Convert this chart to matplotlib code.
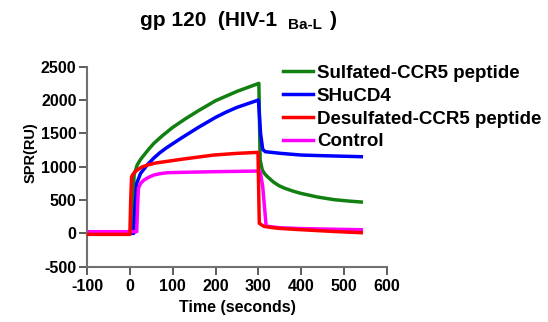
import matplotlib
matplotlib.use("Agg")
import matplotlib.pyplot as plt

# sensorgram traces (time in s, response in RU)
sulfated_t = [-100, 5, 7, 10, 17, 25, 33, 45, 56, 75, 100, 130, 160, 200, 250, 301,
              304, 309, 315, 321, 335, 348, 360, 380, 399, 438, 477, 510, 540]
sulfated_v = [0, 0, 500, 880, 1025, 1110, 1175, 1270, 1350, 1460, 1590, 1720, 1840, 1990, 2130, 2250,
              1100, 950, 890, 850, 770, 715, 680, 635, 600, 545, 505, 485, 470]

shucd4_t = [-100, 9, 12, 16, 25, 41, 56, 70, 87, 100, 119, 140, 160, 180, 200, 225, 250, 275, 300,
            305, 310, 316, 352, 399, 450, 540]
shucd4_v = [0, 0, 400, 750, 900, 1030, 1130, 1210, 1290, 1345, 1425, 1510, 1590, 1665, 1740, 1820,
            1890, 1945, 2000, 1500, 1260, 1225, 1200, 1175, 1165, 1150]

desulf_t = [-100, 0, 2, 4, 10, 17, 28, 41, 60, 87, 119, 160, 196, 250, 299,
            302, 313, 330, 348, 399, 477, 540]
desulf_v = [-15, -15, 500, 850, 910, 950, 995, 1025, 1055, 1080, 1110, 1145, 1175, 1200, 1215,
            150, 105, 88, 75, 55, 28, 10]

control_t = [-100, 16, 18, 20, 25, 33, 45, 56, 70, 87, 119, 196, 304,
             310, 318, 335, 348, 399, 477, 540]
control_v = [25, 25, 400, 675, 750, 800, 845, 875, 895, 910, 915, 925, 935,
             700, 110, 95, 85, 72, 62, 55]

labels = ["Sulfated-CCR5 peptide", "SHuCD4", "Desulfated-CCR5 peptide", "Control"]
colors = ["#118011", "#0000ff", "#ff0000", "#ff00ff"]

plt.rcParams['font.family'] = ['Liberation Sans', 'DejaVu Sans']
plt.rcParams['font.weight'] = 'bold'
plt.rcParams['axes.unicode_minus'] = False

fig = plt.figure(figsize=(5.48, 3.22), dpi=100)
W, H = 548.0, 322.0
ax = fig.add_axes([87 / W, 1 - 266.7 / H, 300 / W, 200 / H])

series = [(sulfated_t, sulfated_v), (shucd4_t, shucd4_v),
          (desulf_t, desulf_v), (control_t, control_v)]
handles = []
for (t, v), lab, col in zip(series, labels, colors):
    h, = ax.plot(t, v, color=col, lw=2.5, label=lab, solid_joinstyle='round')
    handles.append(h)
# red sits on top of magenta in the reference
handles[2].set_zorder(3)

ax.set_xlim(-100, 600)
ax.set_ylim(-500, 2500)
ax.set_xticks(range(-100, 601, 100))
ax.set_yticks(range(-500, 2501, 500))
for s in ['top', 'right']:
    ax.spines[s].set_visible(False)
for s in ['left', 'bottom']:
    ax.spines[s].set_color('#707070')
    ax.spines[s].set_linewidth(1.5)
ax.tick_params(direction='out', length=5.5, width=1.1, color='#303030',
               labelsize=11.5, pad=2)
ax.tick_params(axis='x', pad=3)
for lab in ax.get_xticklabels() + ax.get_yticklabels():
    lab.set_fontweight('bold')

ax.set_xlabel("Time (seconds)", fontsize=11.5, fontweight='bold', labelpad=5)
ax.set_ylabel("SPR(RU)", fontsize=10.5, fontweight='bold')
ax.yaxis.set_label_coords(-0.165, 0.57)

fig.legend(handles=handles, labels=labels, loc='upper left',
           bbox_to_anchor=(283 / W, 1 - 64.5 / H), frameon=False,
           prop={'size': 13.5, 'weight': 'bold'}, handlelength=1.6,
           handletextpad=0.2, labelspacing=0.31, borderpad=0, borderaxespad=0)

# title with subscript strain name
fig.text(140 / W, 1 - 26.3 / H, "gp 120  (HIV-1", fontsize=15, fontweight='bold',
         ha='left', va='baseline')
fig.text(288 / W, 1 - 28.8 / H, "Ba-L", fontsize=11, fontweight='bold',
         ha='left', va='baseline')
fig.text(330 / W, 1 - 26.3 / H, ")", fontsize=15, fontweight='bold',
         ha='left', va='baseline')

fig.savefig("out.png", dpi=100)
